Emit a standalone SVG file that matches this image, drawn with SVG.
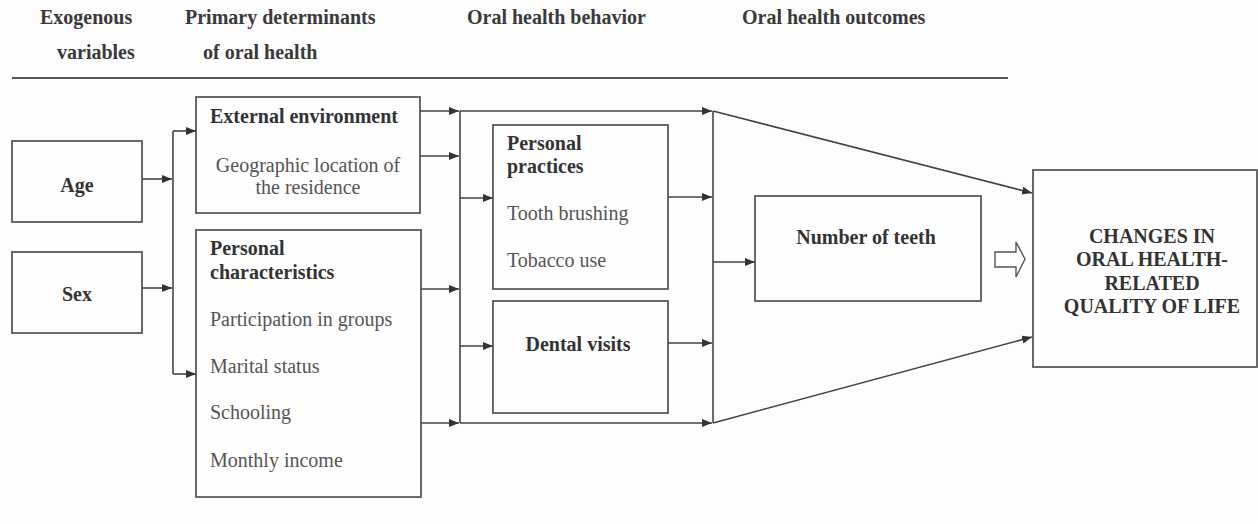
<svg xmlns="http://www.w3.org/2000/svg" width="1258" height="524" viewBox="0 0 1258 524">
<style>
.bg{fill:#fdfdfd}
.box{fill:#fefefe;stroke:#5a5a5a;stroke-width:1.8}
.hd{font-family:"Liberation Serif",serif;font-size:20px;font-weight:bold;fill:#3a3a3a}
.b{font-family:"Liberation Serif",serif;font-size:20px;font-weight:bold;fill:#333}
.r{font-family:"Liberation Serif",serif;font-size:20px;fill:#555}
.c{stroke:#444;stroke-width:1.6;fill:none}
.ca{stroke:#444;stroke-width:1.6;fill:none;marker-end:url(#ah)}
.mid{text-anchor:middle}
</style>
<defs>
<marker id="ah" markerUnits="userSpaceOnUse" markerWidth="11" markerHeight="9" refX="10" refY="4" orient="auto">
<path d="M0,0 L10,4 L0,8 z" fill="#333"/>
</marker>
</defs>
<rect class="bg" x="0" y="0" width="1258" height="524"/>
<g id="header">
<text class="hd" x="40" y="24">Exogenous</text>
<text class="hd" x="57" y="59">variables</text>
<text class="hd" x="185" y="24">Primary determinants</text>
<text class="hd" x="203" y="59">of oral health</text>
<text class="hd" x="467" y="24">Oral health behavior</text>
<text class="hd" x="742" y="24">Oral health outcomes</text>
<line x1="12" y1="78" x2="1008" y2="78" stroke="#555" stroke-width="2"/>
</g>
<g id="age">
<rect class="box" x="12" y="141" width="130" height="81"/>
<text class="b mid" x="77" y="192">Age</text>
</g>
<g id="sex">
<rect class="box" x="12" y="252" width="130" height="81"/>
<text class="b mid" x="77" y="301">Sex</text>
</g>
<g id="external-environment">
<rect class="box" x="196" y="97" width="224" height="116"/>
<text class="b" x="210" y="123">External environment</text>
<text class="r mid" x="308" y="172">Geographic location of</text>
<text class="r mid" x="308" y="194">the residence</text>
</g>
<g id="personal-characteristics">
<rect class="box" x="196" y="230" width="225" height="267"/>
<text class="b" x="210" y="255">Personal</text>
<text class="b" x="210" y="279">characteristics</text>
<text class="r" x="210" y="326">Participation in groups</text>
<text class="r" x="210" y="373">Marital status</text>
<text class="r" x="210" y="419">Schooling</text>
<text class="r" x="210" y="467">Monthly income</text>
</g>
<g id="personal-practices">
<rect class="box" x="493" y="125" width="175" height="164"/>
<text class="b" x="507" y="150">Personal</text>
<text class="b" x="507" y="173">practices</text>
<text class="r" x="507" y="220">Tooth brushing</text>
<text class="r" x="507" y="267">Tobacco use</text>
</g>
<g id="dental-visits">
<rect class="box" x="493" y="301" width="175" height="112"/>
<text class="b mid" x="578" y="351">Dental visits</text>
</g>
<g id="number-of-teeth">
<rect class="box" x="755" y="196" width="226" height="105"/>
<text class="b mid" x="866" y="244">Number of teeth</text>
</g>
<g id="quality-of-life">
<rect class="box" x="1033" y="170" width="224" height="197"/>
<text class="b mid" x="1152" y="243">CHANGES IN</text>
<text class="b mid" x="1152" y="266">ORAL HEALTH-</text>
<text class="b mid" x="1152" y="290">RELATED</text>
<text class="b mid" x="1152" y="313">QUALITY OF LIFE</text>
</g>
<g id="connectors">
<line class="ca" x1="142" y1="179" x2="172" y2="179"/>
<line class="ca" x1="142" y1="288" x2="172" y2="288"/>
<line class="c" x1="173" y1="131" x2="173" y2="374"/>
<line class="ca" x1="173" y1="131" x2="196" y2="131"/>
<line class="ca" x1="173" y1="374" x2="196" y2="374"/>
<line class="ca" x1="420" y1="111" x2="459" y2="111"/>
<line class="ca" x1="420" y1="156" x2="459" y2="156"/>
<line class="ca" x1="421" y1="289" x2="459" y2="289"/>
<line class="ca" x1="421" y1="423" x2="459" y2="423"/>
<line class="c" x1="460" y1="111" x2="460" y2="423"/>
<line class="ca" x1="460" y1="111" x2="712" y2="111"/>
<line class="ca" x1="460" y1="423" x2="712" y2="423"/>
<line class="ca" x1="460" y1="198" x2="493" y2="198"/>
<line class="ca" x1="460" y1="346" x2="493" y2="346"/>
<line class="ca" x1="668" y1="197" x2="712" y2="197"/>
<line class="ca" x1="668" y1="343" x2="712" y2="343"/>
<line class="c" x1="713" y1="111" x2="713" y2="423"/>
<line class="ca" x1="713" y1="262" x2="755" y2="262"/>
<line class="ca" x1="713" y1="111" x2="1032" y2="193"/>
<line class="ca" x1="713" y1="423" x2="1032" y2="337"/>
<path d="M995,252 L1016,252 L1016,242 L1025,259 L1016,277 L1016,267 L995,267 Z" fill="#fff" stroke="#555" stroke-width="1.4"/>
</g>
</svg>
